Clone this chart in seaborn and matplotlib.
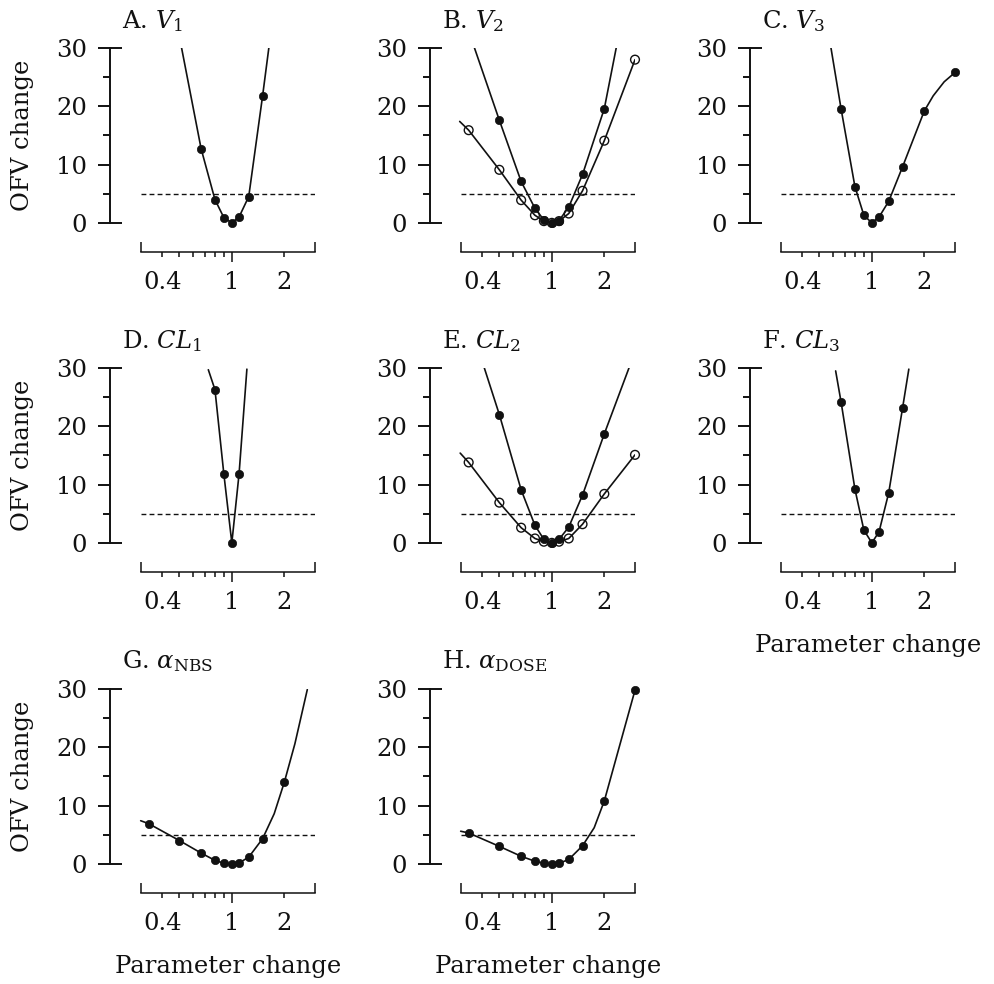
import matplotlib
matplotlib.use("Agg")
import numpy as np
import pandas as pd
import seaborn as sns
import matplotlib.pyplot as plt
from matplotlib.ticker import NullLocator

# ---------------- data ----------------
threshold = 5.0
factors = [1/3, 0.5, 2/3, 0.8, 0.9, 1.0, 1.1, 1.25, 1.5, 2.0, 3.0]

# A. V1
a_x = [2/3, 0.8, 0.9, 1.0, 1.1, 1.25, 1.5]
a_y = [12.7, 4.0, 0.9, 0.0, 1.0, 4.5, 21.7]
a_ext_x = [0.515, 1.63]
a_ext_y = [30.0, 30.0]

# B. V2 (filled and open)
b_fill_x = [0.5, 2/3, 0.8, 0.9, 1.0, 1.1, 1.25, 1.5, 2.0]
b_fill_y = [17.6, 7.1, 2.5, 0.5, 0.0, 0.4, 2.7, 8.3, 19.6]
b_fill_ext_x = [0.36, 2.34]
b_fill_ext_y = [30.0, 30.0]
b_open_x = factors
b_open_y = [15.9, 9.1, 3.9, 1.3, 0.3, 0.0, 0.3, 1.6, 5.5, 14.1, 28.0]
b_open_ext_x = [0.296]
b_open_ext_y = [17.4]

# C. V3
c_x = [2/3, 0.8, 0.9, 1.0, 1.1, 1.25, 1.5, 2.0, 3.0]
c_y = [19.5, 6.2, 1.3, 0.0, 1.0, 3.7, 9.6, 19.2, 25.8]
c_ext_x = [0.583, 2.25, 2.6]
c_ext_y = [30.0, 21.8, 24.2]

# D. CL1
d_x = [0.8, 0.9, 1.0, 1.1]
d_y = [26.3, 11.8, 0.0, 11.8]
d_ext_x = [0.733, 1.22]
d_ext_y = [29.7, 29.8]

# E. CL2 (filled and open)
e_fill_x = [0.5, 2/3, 0.8, 0.9, 1.0, 1.1, 1.25, 1.5, 2.0]
e_fill_y = [22.0, 9.1, 3.0, 0.6, 0.0, 0.6, 2.7, 8.2, 18.7]
e_fill_ext_x = [0.41, 2.77]
e_fill_ext_y = [30.0, 30.0]
e_open_x = factors
e_open_y = [13.8, 6.9, 2.6, 0.75, 0.2, 0.0, 0.2, 0.75, 3.2, 8.4, 15.1]
e_open_ext_x = [0.298]
e_open_ext_y = [15.4]

# F. CL3
f_x = [2/3, 0.8, 0.9, 1.0, 1.1, 1.25, 1.5]
f_y = [24.1, 9.2, 2.2, 0.0, 1.9, 8.6, 23.1]
f_ext_x = [0.62, 1.63]
f_ext_y = [29.5, 29.8]

# G. alpha_NBS
g_x = [1/3, 0.5, 2/3, 0.8, 0.9, 1.0, 1.1, 1.25, 1.5, 2.0]
g_y = [6.9, 4.0, 1.85, 0.6, 0.1, 0.0, 0.15, 1.15, 4.3, 14.0]
g_ext_x = [0.30, 1.75, 2.3, 2.71]
g_ext_y = [7.4, 8.6, 20.6, 29.9]

# H. alpha_DOSE
h_x = factors
h_y = [5.3, 3.0, 1.3, 0.45, 0.1, 0.0, 0.1, 0.75, 3.1, 10.8, 29.8]
h_ext_x = [0.30, 1.75]
h_ext_y = [5.6, 6.2]

titles = [r"A. $V_1$", r"B. $V_2$", r"C. $V_3$",
          r"D. $CL_1$", r"E. $CL_2$", r"F. $CL_3$",
          r"G. $\alpha_{\mathrm{NBS}}$", r"H. $\alpha_{\mathrm{DOSE}}$"]

x_tick_major = [1]
x_tick_minor = [0.4, 0.5, 0.6, 0.7, 0.8, 0.9, 2]
x_tick_minor_labels = ["0.4", "", "", "", "", "", "2"]
y_ticks = [0, 10, 20, 30]
y_minor = [5, 15, 25]

# series per panel: (points x, points y, extension x, extension y, filled?)
panels = [
    [(a_x, a_y, a_ext_x, a_ext_y, True)],
    [(b_open_x, b_open_y, b_open_ext_x, b_open_ext_y, False),
     (b_fill_x, b_fill_y, b_fill_ext_x, b_fill_ext_y, True)],
    [(c_x, c_y, c_ext_x, c_ext_y, True)],
    [(d_x, d_y, d_ext_x, d_ext_y, True)],
    [(e_open_x, e_open_y, e_open_ext_x, e_open_ext_y, False),
     (e_fill_x, e_fill_y, e_fill_ext_x, e_fill_ext_y, True)],
    [(f_x, f_y, f_ext_x, f_ext_y, True)],
    [(g_x, g_y, g_ext_x, g_ext_y, True)],
    [(h_x, h_y, h_ext_x, h_ext_y, True)],
]

# ---------------- styling ----------------
sns.set_theme(style="ticks")
plt.rcParams["font.family"] = ["DejaVu Serif"]
plt.rcParams["mathtext.fontset"] = "dejavuserif"
INK = "#111111"
FS = 17.5

fig = plt.figure(figsize=(9.94, 9.84), dpi=100)
lefts = [110 / 994, 430 / 994, 750 / 994]
bottoms = [1 - 252 / 984, 1 - 572 / 984, 1 - 893 / 984]
W, H = 205 / 994, 204 / 984

for i, (series, title) in enumerate(zip(panels, titles)):
    r, c = divmod(i, 3)
    ax = fig.add_axes([lefts[c], bottoms[r], W, H])
    ax.set_xscale("log")
    for px, py, ex, ey, filled in series:
        line = pd.DataFrame({"x": list(px) + list(ex), "y": list(py) + list(ey)})
        line = line.sort_values("x")
        sns.lineplot(data=line, x="x", y="y", ax=ax, color=INK, lw=1.2,
                     estimator=None, sort=False, zorder=2)
        pts = pd.DataFrame({"x": px, "y": py})
        if filled:
            sns.scatterplot(data=pts, x="x", y="y", ax=ax, color=INK,
                            edgecolor=INK, s=36, linewidth=0.5, zorder=3,
                            clip_on=False)
        else:
            sns.scatterplot(data=pts, x="x", y="y", ax=ax, facecolor="none",
                            edgecolor=INK, s=40, linewidth=1.0, zorder=3,
                            clip_on=False)
    ax.hlines(threshold, 0.3, 3.0, colors=INK, linewidth=1.0,
              linestyles=(0, (3.5, 2.3)), zorder=1)

    ax.set_xlim(0.2, 3.0)
    ax.set_ylim(-5, 30)
    for s in ["top", "right"]:
        ax.spines[s].set_visible(False)
    ax.spines["left"].set_bounds(0, 30)
    ax.spines["bottom"].set_bounds(0.3, 3.0)
    ax.spines["left"].set_linewidth(1.4)
    ax.spines["bottom"].set_linewidth(1.1)
    ax.spines["left"].set_color(INK)
    ax.spines["bottom"].set_color(INK)

    ax.set_xticks(x_tick_major, ["1"])
    ax.set_xticks(x_tick_minor, x_tick_minor_labels, minor=True)
    ax.set_yticks(y_ticks, [str(v) for v in y_ticks])
    ax.set_yticks(y_minor, minor=True)
    ax.tick_params(axis="x", which="major", direction="out", length=7.2,
                   width=1.1, pad=6.5, labelsize=FS, color=INK, labelcolor=INK)
    ax.tick_params(axis="x", which="minor", direction="out", length=3.6,
                   width=1.1, pad=10.1, labelsize=FS, color=INK, labelcolor=INK)
    ax.tick_params(axis="y", which="major", direction="out", length=8.6,
                   width=1.4, pad=8, labelsize=FS, color=INK, labelcolor=INK)
    ax.tick_params(axis="y", which="minor", direction="out", length=5,
                   width=1.4, color=INK)

    # end caps of the range frame
    secx = ax.secondary_xaxis("bottom")
    secx.set_xticks([0.3, 3.0])
    secx.xaxis.set_minor_locator(NullLocator())
    secx.tick_params(axis="x", which="major", direction="in", length=7.2,
                     width=1.1, labelbottom=False, color=INK)
    secx.tick_params(axis="x", which="minor", length=0, width=0,
                     labelbottom=False)
    secx.spines["bottom"].set_visible(False)
    secy = ax.secondary_yaxis("left")
    secy.set_yticks([0, 30])
    secy.yaxis.set_minor_locator(NullLocator())
    secy.tick_params(axis="y", which="major", direction="in", length=8.6,
                     width=1.4, labelleft=False, color=INK)
    secy.tick_params(axis="y", which="minor", length=0, width=0,
                     labelleft=False)
    secy.spines["left"].set_visible(False)

    ax.text(0.06, 1.1, title, transform=ax.transAxes, ha="left",
            va="baseline", fontsize=FS, color=INK)

    ax.set_xlabel("")
    ax.set_ylabel("")
    if c == 0:
        ax.set_ylabel("OFV change", fontsize=FS, color=INK)
        ax.yaxis.set_label_coords(-0.371, 0.571)
    if i in (5, 6, 7):
        ax.set_xlabel("Parameter change", fontsize=FS, color=INK)
        ax.xaxis.set_label_coords(0.575, -0.305)

fig.savefig("out.png", dpi=100)
